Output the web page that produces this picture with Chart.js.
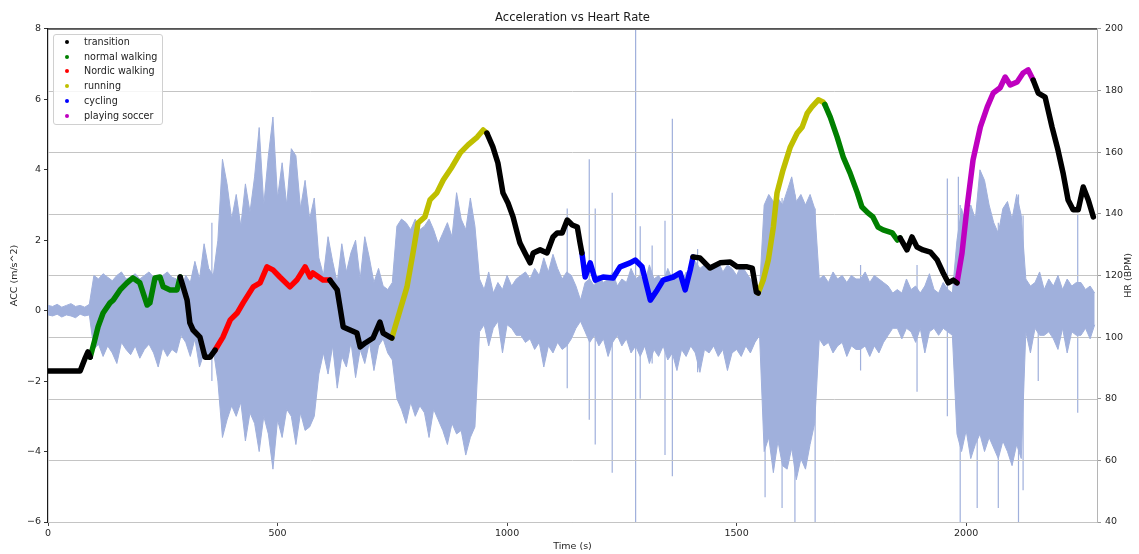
<!DOCTYPE html>
<html>
<head>
<meta charset="utf-8">
<title>Acceleration vs Heart Rate</title>
<script src="https://cdn.jsdelivr.net/npm/chart.js@4.4.0/dist/chart.umd.min.js"></script>
<style>
  body { margin: 0; background: #fff; }
  #wrap { position: relative; width: 1139px; height: 554px; }
  #legend {
    position: absolute; left: 53px; top: 34px; width: 108px; height: 89px;
    border: 1px solid #d0d0d0; border-radius: 3px; background: rgba(255,255,255,0.85);
    font: 9.6px "DejaVu Sans", sans-serif; color: #222;
  }
  #legend .item { position: absolute; left: 0; height: 12px; line-height: 12px; white-space: nowrap; }
  #legend .dot { position: absolute; left: 11px; top: 4px; width: 4px; height: 4px; border-radius: 50%; }
  #legend .txt { position: absolute; left: 30px; top: 0; }
</style>
</head>
<body>
<div id="wrap">
  <canvas id="chart" width="1139" height="554"></canvas>
  <div id="legend"></div>
</div>
<script>
// activities and their colours
const activityNames = ['transition', 'normal walking', 'Nordic walking', 'running', 'cycling', 'playing soccer'];
const activityColors = ['#000000', '#008000', '#ff0000', '#bfbf00', '#0000ff', '#bf00bf'];

// activity changes (time in s where each run starts)
const segmentStart = [0, 92, 288, 364, 614, 749, 956, 1163, 1405, 1547, 1692, 1856, 1980, 2146];
const segmentActivity = [0, 1, 0, 2, 0, 3, 0, 4, 0, 3, 1, 0, 5, 0];

// time axis ticks
const timeTicks = [0, 500, 1000, 1500, 2000];

// heart rate samples
const hrTime = [
  0, 70, 81, 87,
  92, 102, 109, 120, 135, 142, 157, 172, 185, 200, 216, 222, 233, 244, 251, 266, 281,
  288, 303, 309, 316, 331, 342, 353,
  364, 381, 397, 412, 425, 447, 462, 477, 490, 505, 527, 542, 560, 571, 577, 599,
  614, 630, 636, 643, 658, 673, 680, 691, 708, 723, 730, 745,
  749, 767, 782, 795, 806, 821, 832, 847, 861, 880, 898, 915, 935, 948,
  956, 969, 980, 991, 1002, 1013, 1022, 1028, 1039, 1050, 1057, 1072, 1087, 1100, 1109, 1120, 1131, 1142, 1153, 1159,
  1163, 1170, 1181, 1192, 1209, 1231, 1246, 1268, 1279, 1294, 1312, 1327, 1340, 1362, 1377, 1388, 1399,
  1405, 1420, 1442, 1464, 1486, 1501, 1523, 1534, 1543,
  1547, 1558, 1569, 1580, 1588, 1601, 1617, 1632, 1643, 1654, 1664, 1678, 1688,
  1692, 1704, 1719, 1732, 1747, 1763, 1773, 1786, 1797, 1808, 1819, 1839, 1850,
  1856, 1871, 1882, 1893, 1906, 1922, 1937, 1950, 1961, 1972,
  1980, 1991, 2002, 2015, 2031, 2046, 2059, 2074, 2085, 2096, 2111, 2124, 2135,
  2146, 2157, 2172, 2187, 2200, 2211, 2222, 2233, 2244, 2255, 2266, 2277
];
const hrBpm = [
  89.0, 89.0, 93.2, 95.2,
  93.5, 99.1, 103.3, 107.8, 111.1, 112.0, 115.3, 117.6, 119.2, 117.6, 110.4, 111.1, 119.2, 119.5, 116.3, 115.3, 115.3,
  119.5, 112.0, 104.6, 102.3, 100.0, 93.5, 93.5,
  95.8, 100.0, 105.6, 107.8, 111.1, 116.3, 117.6, 122.8, 121.8, 119.5, 116.3, 118.5, 122.8, 119.5, 120.8, 118.5,
  118.5, 115.3, 109.8, 103.3, 102.3, 101.3, 96.8, 98.1, 99.7, 104.9, 101.3, 100.0,
  99.7, 108.8, 116.3, 127.3, 137.0, 139.0, 144.5, 146.8, 151.0, 155.2, 159.8, 162.4, 164.9, 167.2,
  166.2, 161.7, 156.5, 146.8, 143.5, 139.0, 133.8, 130.5, 127.3, 124.1, 127.3, 128.3, 127.3, 132.5, 133.8, 133.8, 138.0, 136.4, 135.7, 130.5,
  127.3, 119.5, 124.1, 118.5, 119.5, 119.2, 122.8, 124.1, 125.0, 122.8, 112.0, 115.3, 118.5, 119.5, 120.8, 115.3, 121.8,
  126.0, 125.7, 122.4, 124.1, 124.4, 122.8, 122.8, 122.4, 114.6,
  114.3, 118.5, 125.0, 135.7, 146.8, 154.2, 161.7, 166.2, 168.2, 172.7, 174.7, 177.0, 176.3,
  175.5, 171.4, 164.9, 158.5, 153.3, 146.8, 142.2, 140.3, 139.0, 135.7, 134.8, 133.8, 131.5,
  132.2, 128.3, 132.5, 129.2, 128.3, 127.6, 125.0, 120.8, 117.6, 118.5,
  117.6, 127.3, 142.2, 157.5, 168.2, 174.7, 179.2, 180.9, 184.4, 181.8, 182.8, 185.7, 186.7,
  183.4, 179.2, 177.9, 168.2, 160.7, 153.3, 144.5, 141.3, 141.3, 148.7, 144.5, 139.0
];

// acceleration envelope, one upper/lower pair every accStep seconds
const accStep = 10;
const accHigh = [
  0.15, 0.12, 0.18, 0.1, 0.15, 0.2, 0.12, 0.15, 0.1, 0.18,
  1.0, 0.9, 1.05, 0.95, 0.85, 1.0, 1.1, 0.9, 0.95, 1.05, 0.9, 1.0, 1.1, 0.95, 0.85, 1.0, 1.1, 0.95, 0.9,
  0.6, 1.0, 0.8, 1.4, 0.9, 1.9, 1.2, 1.0,
  2.0, 4.3, 3.6, 2.6, 3.3, 2.4, 3.6, 2.8, 3.8, 5.2, 3.0, 4.4, 5.5, 3.2, 4.2, 3.0, 4.6, 4.4, 2.9, 3.7, 2.6, 3.2, 1.5,
  1.0, 2.1, 1.4, 0.8, 1.9, 1.1, 1.65, 2.0, 0.9, 2.1, 1.5, 0.8, 1.2, 0.7, 0.6, 0.8,
  2.4, 2.6, 2.5, 2.3, 2.6, 2.3, 2.4, 2.6, 2.3, 1.9, 2.2, 2.5, 2.1, 3.35, 2.6, 2.3, 3.2, 2.4,
  0.9, 0.6, 1.1, 0.5, 0.8, 0.6, 1.0, 0.7, 0.9,
  1.0, 1.1, 0.9, 1.2, 1.0, 1.5, 1.1, 1.6, 1.2, 0.9, 1.1, 1.0, 0.7,
  0.3,
  0.8, 0.9, 0.7, 1.0, 0.8, 0.9, 1.1, 0.7, 0.9, 0.8, 1.2, 0.9, 1.0, 0.8, 1.3, 0.9, 1.0, 0.8, 1.2, 0.9,
  1.0, 0.8, 1.1, 1.0, 1.4, 1.2, 1.3, 1.1, 1.2, 1.4, 1.1, 1.3, 1.2, 1.0, 1.3, 1.1, 0.9, 0.7, 0.6,
  3.0, 3.3, 3.1, 3.2, 3.0, 3.4, 3.8, 3.1, 3.3, 3.0, 3.3, 2.9,
  0.9, 1.0, 0.8, 1.1, 0.9, 1.0, 0.8, 1.0, 0.9, 0.9, 1.1, 0.8, 1.0, 0.9, 0.8, 0.7, 0.5,
  0.6, 0.5, 0.9, 0.6, 0.7, 0.5, 0.7, 1.05, 0.6, 0.5, 0.8, 0.6, 0.5,
  2.0, 2.9, 2.4, 3.0, 2.6, 4.0, 3.7, 3.0, 2.5, 2.2, 2.9, 3.1, 2.6, 3.3, 2.7,
  0.9, 0.7, 0.8, 1.1, 0.6, 0.9, 0.7, 1.0, 0.6, 0.9, 0.7, 0.8, 0.8, 0.6, 0.7, 0.5
];
const accLow = [
  -0.12, -0.15, -0.1, -0.18, -0.12, -0.15, -0.2, -0.1, -0.15, -0.12,
  -1.1, -0.95, -1.3, -1.0, -1.2, -1.5, -0.9, -1.1, -1.25, -1.0, -1.35, -1.1, -0.95, -1.2, -1.6, -1.05, -1.3, -1.1, -1.2,
  -0.7, -0.9, -1.3, -0.8, -1.6, -1.2, -1.4, -1.1,
  -2.0, -3.6, -3.1, -2.7, -3.0, -2.6, -3.7, -2.9, -3.2, -4.0, -3.0, -3.5, -4.5, -3.1, -3.6, -2.8, -3.0, -3.8, -2.9, -3.4, -3.3, -3.0, -1.8,
  -1.2, -1.8, -1.0, -2.2, -1.3, -1.6, -0.9, -1.9, -1.1, -1.5, -0.9, -1.7, -1.0, -0.8, -1.2, -1.4,
  -2.5, -2.8, -3.2, -2.6, -3.0, -2.7, -2.9, -3.6, -2.8, -3.1, -3.4, -3.8, -3.2, -3.5, -3.4, -4.1, -3.6, -3.3,
  -0.6, -0.4, -1.0, -0.5, -0.3, -1.2, -0.4, -0.5, -0.7,
  -0.7, -0.9, -0.8, -1.1, -0.9, -1.6, -1.0, -1.2, -0.9, -1.1, -1.0, -0.8, -0.5,
  -0.3,
  -0.6, -0.9, -0.7, -1.0, -0.8, -1.3, -0.9, -0.7, -1.0, -0.8, -1.2, -1.0, -1.3, -1.0, -1.5, -1.1, -1.3, -1.0, -1.4, -1.2,
  -1.7, -1.1, -1.3, -1.0, -1.2, -1.75, -1.1, -1.2, -1.0, -1.3, -1.1, -1.7, -1.2, -1.1, -1.3, -1.0, -1.2, -0.9, -0.7,
  -4.0, -3.6, -4.6, -3.7, -4.4, -4.5, -3.9, -4.8, -4.2, -4.5, -3.8, -3.2,
  -0.8, -1.0, -0.9, -1.2, -1.0, -0.9, -1.3, -1.0, -1.1, -1.1, -1.0, -1.3, -1.0, -1.2, -0.9, -0.7, -0.5,
  -0.5, -0.8, -0.5, -0.6, -0.9, -0.5, -1.2, -0.6, -0.5, -0.7, -0.5, -0.6, -0.7,
  -3.5, -4.0, -3.4, -4.2, -3.8, -3.5, -4.0, -3.6, -3.9, -4.2, -3.7, -4.0, -4.4, -3.8, -4.2,
  -0.6, -1.2, -0.5, -0.7, -0.7, -0.6, -0.8, -1.1, -0.5, -1.2, -0.6, -0.7, -0.7, -0.5, -0.8, -0.4
];

// isolated acceleration spikes
const spikeTime = [357, 1131, 1179, 1192, 1229, 1280, 1290, 1316, 1344, 1360, 1415, 1562, 1599, 1627, 1671, 1770, 1893, 1959, 1983, 1987, 2024, 2070, 2114, 2124, 2157, 2243];
const spikeHigh = [2.5, 2.9, 4.3, 2.9, 3.35, 8.0, 2.4, 1.85, 2.55, 5.45, 1.75, 3.0, 3.2, 3.3, 2.9, 1.3, 1.3, 3.75, 3.8, 3.0, 3.0, 2.5, 3.3, 2.7, 0.8, 2.75];
const spikeLow = [-2.0, -2.2, -3.1, -3.8, -4.6, -6.0, -2.5, -1.5, -4.1, -4.7, -1.75, -5.3, -5.6, -6.0, -6.0, -1.7, -2.3, -3.0, -3.5, -6.0, -5.6, -5.6, -6.0, -5.1, -2.0, -2.9];

const accColor = '#a0b0dc';
const gridColor = '#c4c4c4';
const textColor = '#262626';
const fontFamily = '"DejaVu Sans", sans-serif';

function activityAt(t) {
    let a = segmentActivity[0];
    segmentStart.forEach((s, i) => { if (t >= s) a = segmentActivity[i]; });
    return a;
}

// one dataset per activity; each run is extended to the first point of the next run
function buildHrDatasets() {
    const sets = activityNames.map((name, a) => ({
        label: name,
        data: [],
        yAxisID: 'yHr',
        borderColor: activityColors[a],
        backgroundColor: activityColors[a],
        borderWidth: 5.5,
        borderJoinStyle: 'round',
        borderCapStyle: 'round',
        pointRadius: 0,
        tension: 0,
        spanGaps: false,
        order: 0
    }));
    for (let i = 0; i < hrTime.length; i++) {
        const a = activityAt(hrTime[i]);
        const data = sets[a].data;
        data.push({ x: hrTime[i], y: hrBpm[i] });
        const next = i + 1;
        if (next < hrTime.length && activityAt(hrTime[next]) !== a) {
            data.push({ x: hrTime[next], y: hrBpm[next] });
            data.push({ x: hrTime[next], y: null });
        }
    }
    return sets;
}

function buildAccDatasets() {
    const upper = accHigh.map((v, i) => ({ x: i * accStep, y: v }));
    const lower = accLow.map((v, i) => ({ x: i * accStep, y: v }));
    const spikes = [];
    spikeTime.forEach((t, i) => {
        spikes.push({ x: t, y: spikeLow[i] }, { x: t, y: spikeHigh[i] }, { x: t, y: null });
    });
    const common = { yAxisID: 'yAcc', borderColor: accColor, backgroundColor: accColor, borderWidth: 1, pointRadius: 0, tension: 0, order: 2 };
    return [
        Object.assign({ label: 'acc upper', data: upper, fill: '+1' }, common),
        Object.assign({ label: 'acc lower', data: lower, fill: false }, common),
        Object.assign({ label: 'acc spikes', data: spikes, fill: false, spanGaps: false }, common, { borderWidth: 1.2 })
    ];
}

// HR grid goes over the acceleration trace but under the HR line
const hrGridPlugin = {
    id: 'hrGrid',
    afterDatasetDraw(chart, args) {
        if (args.index !== 2) return;
        const { ctx, chartArea } = chart;
        const scale = chart.scales.yHr;
        ctx.save();
        ctx.strokeStyle = gridColor;
        ctx.lineWidth = 1;
        scale.ticks.forEach(tick => {
            const y = Math.round(scale.getPixelForValue(tick.value)) + 0.5;
            ctx.beginPath();
            ctx.moveTo(chartArea.left, y);
            ctx.lineTo(chartArea.right, y);
            ctx.stroke();
        });
        ctx.restore();
    }
};

// top spine and right-hand axis label (reads bottom to top)
const framePlugin = {
    id: 'frame',
    afterDraw(chart) {
        const { ctx, chartArea } = chart;
        ctx.save();
        ctx.strokeStyle = '#1a1a1a';
        ctx.lineWidth = 1.2;
        ctx.beginPath();
        ctx.moveTo(chartArea.left, chartArea.top);
        ctx.lineTo(chartArea.right, chartArea.top);
        ctx.stroke();
        ctx.translate(1129, (chartArea.top + chartArea.bottom) / 2);
        ctx.rotate(-Math.PI / 2);
        ctx.fillStyle = textColor;
        ctx.font = '9.5px ' + fontFamily;
        ctx.textAlign = 'center';
        ctx.textBaseline = 'middle';
        ctx.fillText('HR (BPM)', 0, 0);
        ctx.restore();
    }
};

function minusSign(v) {
    return v < 0 ? '\u2212' + Math.abs(v) : String(v);
}

const tickFont = { family: fontFamily, size: 9.5 };

new Chart(document.getElementById('chart'), {
    type: 'line',
    data: { datasets: [...buildAccDatasets(), ...buildHrDatasets()] },
    options: {
        responsive: false,
        animation: false,
        devicePixelRatio: 1,
        layout: { padding: 0 },
        plugins: {
            legend: { display: false },
            tooltip: { enabled: false },
            title: {
                display: true,
                text: 'Acceleration vs Heart Rate',
                fullSize: false,
                color: '#1a1a1a',
                font: { family: fontFamily, size: 11.6, weight: 'normal' },
                padding: { top: 11, bottom: 4 }
            }
        },
        scales: {
            x: {
                type: 'linear',
                position: 'bottom',
                min: 0,
                max: 2285,
                afterBuildTicks(scale) { scale.ticks = timeTicks.map(v => ({ value: v })); },
                ticks: { color: textColor, font: tickFont, padding: 2, maxRotation: 0, callback: v => String(v) },
                grid: { drawOnChartArea: false, drawTicks: true, tickLength: 4, tickColor: '#444' },
                border: { color: '#b5b5b5' },
                title: { display: true, text: 'Time (s)', color: textColor, font: tickFont, padding: { top: 0, bottom: 2 } },
                afterFit(scale) { scale.height = 32; }
            },
            yAcc: {
                type: 'linear',
                position: 'left',
                min: -6,
                max: 8,
                ticks: { stepSize: 2, color: textColor, font: tickFont, padding: 3, callback: minusSign },
                grid: { drawOnChartArea: false, drawTicks: true, tickLength: 4, tickColor: '#333' },
                border: { color: '#1a1a1a', width: 1.2 },
                title: { display: true, text: 'ACC (m/s^2)', color: textColor, font: tickFont, padding: { top: 9, bottom: 0 } },
                afterFit(scale) { scale.width = 48; }
            },
            yHr: {
                type: 'linear',
                position: 'right',
                min: 40,
                max: 200,
                ticks: { stepSize: 20, color: textColor, font: tickFont, padding: 4 },
                grid: { drawOnChartArea: false, drawTicks: true, tickLength: 4, tickColor: '#999' },
                border: { color: '#b5b5b5' },
                afterFit(scale) { scale.width = 42; }
            }
        }
    },
    plugins: [hrGridPlugin, framePlugin]
});

// legend box in the upper left of the plot
const legendEl = document.getElementById('legend');
activityNames.forEach((name, i) => {
    const item = document.createElement('div');
    item.className = 'item';
    item.style.top = (0.7 + i * 14.86) + 'px';
    item.innerHTML = '<span class="dot" style="background:' + activityColors[i] + '"></span><span class="txt">' + name + '</span>';
    legendEl.appendChild(item);
});
</script>
</body>
</html>
